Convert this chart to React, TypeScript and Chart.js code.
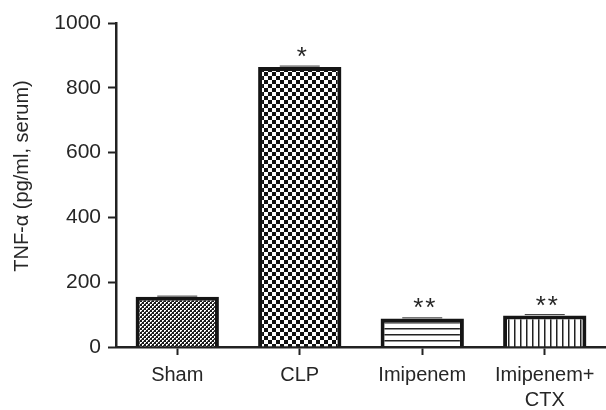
import React, { useEffect, useRef } from "react";
import { Chart, registerables } from "chart.js";

Chart.register(...registerables);

const categories: (string | string[])[] = ["Sham", "CLP", "Imipenem", ["Imipenem+", "CTX"]];
const values: number[] = [155, 864, 88, 97];
const errors: number[] = [2, 3, 2, 3];
const significance: string[] = ["", "*", "**", "**"];
const yTicks: number[] = [0, 200, 400, 600, 800, 1000];
const yTitle = "TNF-\u03b1 (pg/ml, serum)";

const FAMILY = "'Liberation Sans', Arial, sans-serif";
const TEXT = "#262626";

function makeTile(size: number, draw: (c: CanvasRenderingContext2D) => void): CanvasPattern | string {
  const cv = document.createElement("canvas");
  cv.width = size;
  cv.height = size;
  const c = cv.getContext("2d");
  if (!c) return "#888";
  draw(c);
  const p = c.createPattern(cv, "repeat");
  return p || "#888";
}

function patterns() {
  const fine = makeTile(4, (c) => {
    c.fillStyle = "#ffffff";
    c.fillRect(0, 0, 4, 4);
    c.fillStyle = "#1a1a1a";
    c.fillRect(0, 0, 2, 2);
    c.fillRect(2, 2, 2, 2);
    c.fillStyle = "#555";
    c.fillRect(1, 3, 1, 1);
    c.fillRect(3, 1, 1, 1);
  });
  const coarse = makeTile(8, (c) => {
    c.fillStyle = "#ffffff";
    c.fillRect(0, 0, 8, 8);
    c.fillStyle = "#111";
    c.fillRect(0, 0, 4, 4);
    c.fillRect(4, 4, 4, 4);
  });
  const horiz = makeTile(6, (c) => {
    c.fillStyle = "#ffffff";
    c.fillRect(0, 0, 6, 6);
    c.fillStyle = "#222";
    c.fillRect(0, 4, 6, 1.5);
  });
  const vert = makeTile(6, (c) => {
    c.fillStyle = "#ffffff";
    c.fillRect(0, 0, 6, 6);
    c.fillStyle = "#222";
    c.fillRect(4, 0, 1.5, 6);
  });
  return [fine, coarse, horiz, vert];
}

const annotatePlugin = {
  id: "annotate",
  afterDatasetsDraw(chart: any) {
    const ctx = chart.ctx;
    const meta = chart.getDatasetMeta(0);
    const y = chart.scales.y;
    ctx.save();
    meta.data.forEach((bar: any, i: number) => {
      const x = bar.x;
      const ye = y.getPixelForValue(values[i] + errors[i]);
      ctx.strokeStyle = "#333";
      ctx.lineWidth = 1;
      ctx.beginPath();
      ctx.moveTo(x - 20, ye);
      ctx.lineTo(x + 20, ye);
      ctx.stroke();
      const marks = significance[i];
      if (marks) {
        ctx.fillStyle = TEXT;
        ctx.font = `26px ${FAMILY}`;
        ctx.textAlign = "center";
        ctx.textBaseline = "alphabetic";
        const n = marks.length;
        const gap = 12;
        for (let k = 0; k < n; k++) {
          const cx = x + 2 + (k - (n - 1) / 2) * gap;
          ctx.fillText("*", cx, bar.y - 2);
        }
      }
    });
    // y-axis title
    ctx.translate(27.5, 176);
    ctx.rotate(-Math.PI / 2);
    ctx.fillStyle = TEXT;
    ctx.font = `20px ${FAMILY}`;
    ctx.textAlign = "center";
    ctx.textBaseline = "alphabetic";
    ctx.fillText(yTitle, 0, 0);
    ctx.restore();
  },
};

export default function App() {
  const ref = useRef<HTMLCanvasElement | null>(null);
  useEffect(() => {
    if (!ref.current) return;
    const fills = patterns();
    const font = { family: FAMILY, size: 20, lineHeight: 1.25 };
    const chart = new Chart(ref.current, {
      type: "bar",
      data: {
        labels: categories,
        datasets: [
          {
            data: values,
            backgroundColor: fills as any,
            borderColor: "#151515",
            borderWidth: 4,
            borderSkipped: "bottom",
            categoryPercentage: 1,
            barPercentage: 0.68,
          },
        ],
      },
      options: {
        animation: false,
        responsive: true,
        maintainAspectRatio: false,
        layout: { padding: { top: 23, right: 0, bottom: 0, left: 0 } },
        plugins: { legend: { display: false }, tooltip: { enabled: false } },
        scales: {
          x: {
            grid: {
              offset: false,
              drawOnChartArea: false,
              drawTicks: true,
              tickLength: 8,
              tickColor: "#222",
              tickWidth: 2,
            },
            border: { display: true, color: "#222", width: 2.5 },
            ticks: { color: TEXT, font, padding: 8, maxRotation: 0, autoSkip: false },
            afterFit: (s: any) => {
              s.height = 63;
            },
          },
          y: {
            min: 0,
            max: 1000,
            afterBuildTicks: (s: any) => {
              s.ticks = yTicks.map((v) => ({ value: v }));
            },
            grid: {
              drawOnChartArea: false,
              drawTicks: true,
              tickLength: 8,
              tickColor: "#222",
              tickWidth: 2,
            },
            border: { display: true, color: "#222", width: 2.5 },
            ticks: {
              color: TEXT,
              font: { family: FAMILY, size: 21 },
              padding: 7,
              callback: (v: any) => String(v),
            },
            afterFit: (s: any) => {
              s.width = 116;
            },
          },
        },
      },
      plugins: [annotatePlugin],
    });
    return () => chart.destroy();
  }, []);
  return (
    <div style={{ position: "fixed", left: 0, top: 0, width: 606, height: 410, background: "#fff" }}>
      <canvas ref={ref} />
    </div>
  );
}
